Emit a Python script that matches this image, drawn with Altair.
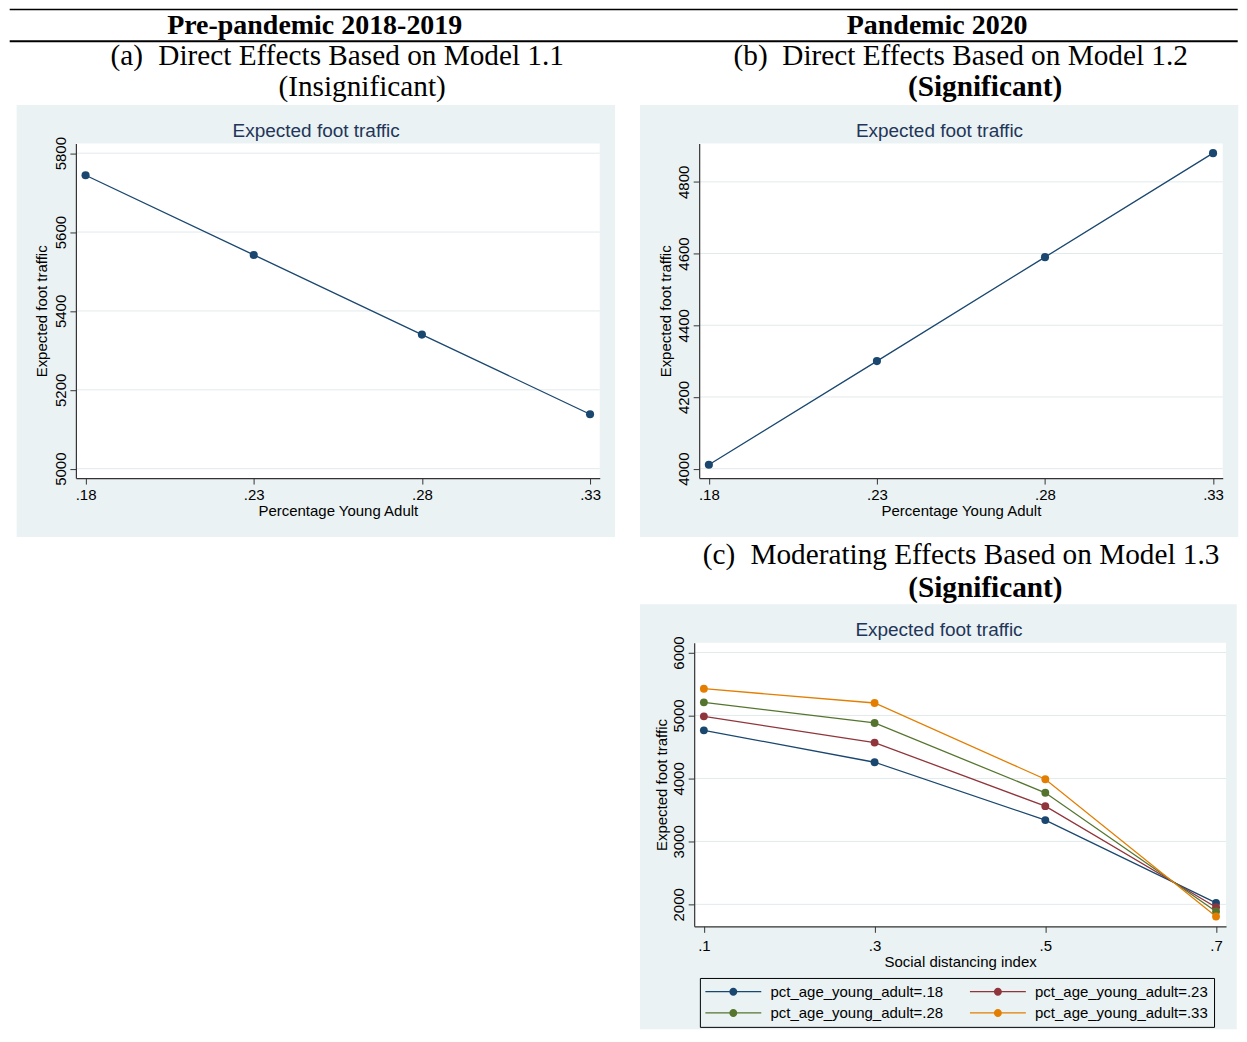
import altair as alt
import pandas as pd

# ---------------- data ----------------
pct_young = [0.18, 0.23, 0.28, 0.33]
pre_traffic = [5744, 5542, 5340, 5138]
pandemic_traffic = [4011, 4300, 4590, 4880]

sdi = [0.1, 0.3, 0.5, 0.7]
pct_keys = [".18", ".23", ".28", ".33"]
group_labels = ["pct_age_young_adult=" + k for k in pct_keys]
traffic_18 = [4764, 4257, 3338, 2023]
traffic_23 = [4986, 4569, 3560, 1954]
traffic_28 = [5208, 4881, 3772, 1886]
traffic_33 = [5425, 5198, 3987, 1807]

ticks_a = [5000, 5200, 5400, 5600, 5800]
ticks_b = [4000, 4200, 4400, 4600, 4800]
ticks_c = [2000, 3000, 4000, 5000, 6000]

# ---------------- styles ----------------
SANS = "Liberation Sans"
SERIF = "Liberation Serif"
BG = "#EAF2F3"
GRID = "#E2EAEC"
TITLE_COLOR = "#1F3559"
AXIS_COLOR = "#333333"
NAVY = "#1A476F"
series_colors = ["#1A476F", "#90353B", "#55752F", "#E37E00"]

dummy = pd.DataFrame({"k": [0]})


def text_mark(txt, x, y, size=29.3, weight="normal", align="center", font=SERIF, color="black"):
    return alt.Chart(dummy).mark_text(
        text=txt, font=font, fontSize=size, fontWeight=weight, align=align,
        baseline="alphabetic", color=color
    ).encode(x=alt.value(x), y=alt.value(y))


def rule_mark(x0, x1, y, w):
    return alt.Chart(dummy).mark_rule(color="black", strokeWidth=w).encode(
        x=alt.value(x0), x2=alt.value(x1), y=alt.value(y)
    )


def rect_mark(x0, x1, y0, y1, color):
    return alt.Chart(dummy).mark_rect(color=color).encode(
        x=alt.value(x0), x2=alt.value(x1), y=alt.value(y0), y2=alt.value(y1)
    )


def empty_cell(w, h):
    return alt.Chart(dummy).mark_text(text=" ", fontSize=4).encode(
        x=alt.value(w / 2), y=alt.value(h / 2)
    ).properties(width=w, height=h)


def y_axis(values, height, title_x, offset=0):
    return alt.Axis(
        values=values, format="d", labelAngle=270, labelAlign="center",
        labelBaseline="alphabetic", labelPadding=4.5, labelFont=SANS,
        labelFontSize=15, labelColor="black", labelFlush=False, labelOverlap=False,
        tickSize=6, tickColor=AXIS_COLOR, tickWidth=1, domainColor=AXIS_COLOR,
        domainWidth=1.2, grid=False, titleFont=SANS, titleFontSize=15,
        titleFontWeight="normal", titleColor="black", titleAngle=270,
        titleAlign="center", titleBaseline="alphabetic", titleX=title_x,
        titleY=height / 2, offset=offset, zindex=1,
    )


def x_axis(values, center, fmt, label_pad, title_y):
    return alt.Axis(
        values=values, labelExpr=f"substring(format(datum.value, '{fmt}'), 1)",
        labelAngle=0, labelPadding=label_pad, labelFont=SANS, labelFontSize=15,
        labelColor="black", labelFlush=False, labelOverlap=False, tickSize=6,
        tickColor=AXIS_COLOR, tickWidth=1, domainColor=AXIS_COLOR, domainWidth=1.2,
        grid=False, titleFont=SANS, titleFontSize=15, titleFontWeight="normal",
        titleColor="black", titleBaseline="alphabetic", titleAlign="center",
        titleX=center, titleY=title_y, zindex=1,
    )


def simple_panel(ys, yticks, ydomain, W, H, ytitle_x):
    xscale = alt.Scale(domain=[0.17712, 0.33288], nice=False, zero=False)
    yscale = alt.Scale(domain=ydomain, nice=False, zero=False)
    df = pd.DataFrame({"x": pct_young, "y": ys})
    X = alt.X("x:Q", scale=xscale, axis=x_axis(pct_young, W / 2, ".2f", 3, 37.3),
              title="Percentage Young Adult")
    Y = alt.Y("y:Q", scale=yscale, axis=y_axis(yticks, H, ytitle_x),
              title="Expected foot traffic")
    grid = alt.Chart(pd.DataFrame({"y": yticks})).mark_rule(
        color=GRID, strokeWidth=1).encode(y=Y)
    line = alt.Chart(df).mark_line(color=NAVY, strokeWidth=1.3).encode(x=X, y=Y)
    pts = alt.Chart(df).mark_point(filled=True, size=66, color=NAVY, opacity=1).encode(x=X, y=Y)
    return alt.layer(
        rect_mark(-59.3, 540, -38.7, 394, BG),
        rect_mark(0, W, 0, H, "white"),
        grid,
        text_mark("Expected foot traffic", 240.7, -6.7, size=19, font=SANS, color=TITLE_COLOR),
        line,
        pts,
    ).properties(width=W, height=H)


# ---------------- header (origin = left edge of panel a, top of figure) ----------------
header = alt.layer(
    rule_mark(-66.3, 1163.7, 0.75, 1.5),
    rule_mark(-66.3, 1163.7, 32.5, 2),
    text_mark("Pre-pandemic 2018-2019", 239.2, 25, size=28, weight="bold"),
    text_mark("Pandemic 2020", 862.7, 25, size=28, weight="bold"),
    text_mark("(a)", 34.7, 56, align="left"),
    text_mark("Direct Effects Based on Model 1.1", 285.7, 56),
    text_mark("(Insignificant)", 286.7, 87),
    text_mark("(b)", 658.7, 56, align="left"),
    text_mark("Direct Effects Based on Model 1.2", 910.7, 56),
    text_mark("(Significant)", 910.7, 87, weight="bold"),
).properties(width=524.7, height=134.7)

panel_a = simple_panel(pre_traffic, ticks_a, [4976.2, 5824.3], 524.7, 335, -29.3)
panel_b = simple_panel(pandemic_traffic, ticks_b, [3973.8, 4906.6], 524.4, 335, -28.3)

# ---------------- panel c ----------------
WC, HC = 527.7, 284
rows = []
for key, lab, vals in zip(pct_keys, group_labels, [traffic_18, traffic_23, traffic_28, traffic_33]):
    for s, v in zip(sdi, vals):
        rows.append({"x": s, "y": v, "k": key, "g": lab})
df_c = pd.DataFrame(rows)

xscale_c = alt.Scale(domain=[0.08866, 0.7117], range=[-5, WC], nice=False, zero=False)
yscale_c = alt.Scale(domain=[1651, 6154], nice=False, zero=False)
Xc = alt.X("x:Q", scale=xscale_c, axis=x_axis(sdi, (WC - 5) / 2, ".1f", 6.5, 40),
           title="Social distancing index")
Yc = alt.Y("y:Q", scale=yscale_c, axis=y_axis(ticks_c, HC, -27.3, offset=5),
           title="Expected foot traffic")

LEGEND_SYMBOL = "M-7,-0.16L7,-0.16L7,0.16L-7,0.16Z M-1,0A1,1,0,1,1,1,0A1,1,0,1,1,-1,0Z"

grid_c = alt.Chart(pd.DataFrame({"y": ticks_c})).mark_rule(color=GRID, strokeWidth=1).encode(
    y=Yc, x=alt.value(-5), x2=alt.value(WC)
)
lines_c = alt.Chart(df_c).mark_line(strokeWidth=1.3).encode(
    x=Xc, y=Yc,
    stroke=alt.Stroke("k:N", scale=alt.Scale(domain=pct_keys, range=series_colors), legend=None),
)
pts_c = alt.Chart(df_c).mark_point(filled=True, size=62, opacity=1, strokeWidth=0).encode(
    x=Xc, y=Yc,
    fill=alt.Fill(
        "g:N", scale=alt.Scale(domain=group_labels, range=series_colors),
        legend=alt.Legend(
            title=None, orient="none", legendX=0.7, legendY=335.7, columns=2,
            direction="horizontal",
            symbolType=LEGEND_SYMBOL, symbolSize=64, symbolStrokeWidth=0,
            symbolOffset=20, labelOffset=29.7, labelFont=SANS, labelFontSize=15,
            labelColor="black", labelLimit=400, strokeColor="black", padding=6,
            rowPadding=5.5, columnPadding=26, zindex=1,
        ),
    ),
)

panel_c = alt.layer(
    rect_mark(-59.3, 538.4, -38.7, 387, BG),
    rect_mark(-5, WC, 0, HC, "white"),
    grid_c,
    text_mark("Expected foot traffic", 240.2, -7, size=19, font=SANS, color=TITLE_COLOR),
    text_mark("(c)", 3.7, -79, align="left"),
    text_mark("Moderating Effects Based on Model 1.3", 286.2, -79),
    text_mark("(Significant)", 286.7, -46, weight="bold"),
    lines_c,
    pts_c,
).properties(width=WC, height=HC)

cells = [
    header, empty_cell(1, 134.7),
    panel_a, panel_b,
    empty_cell(1, 164.3), empty_cell(1, 164.3),
    empty_cell(1, HC), panel_c,
]

chart = alt.concat(
    *cells, columns=2, spacing={"row": 0, "column": 99.3},
    bounds="flush", align="each", padding=0
).resolve_scale(fill="independent", stroke="independent").configure_view(stroke=None)

chart.save("out.html", embed_options={"renderer": "svg", "actions": False})
